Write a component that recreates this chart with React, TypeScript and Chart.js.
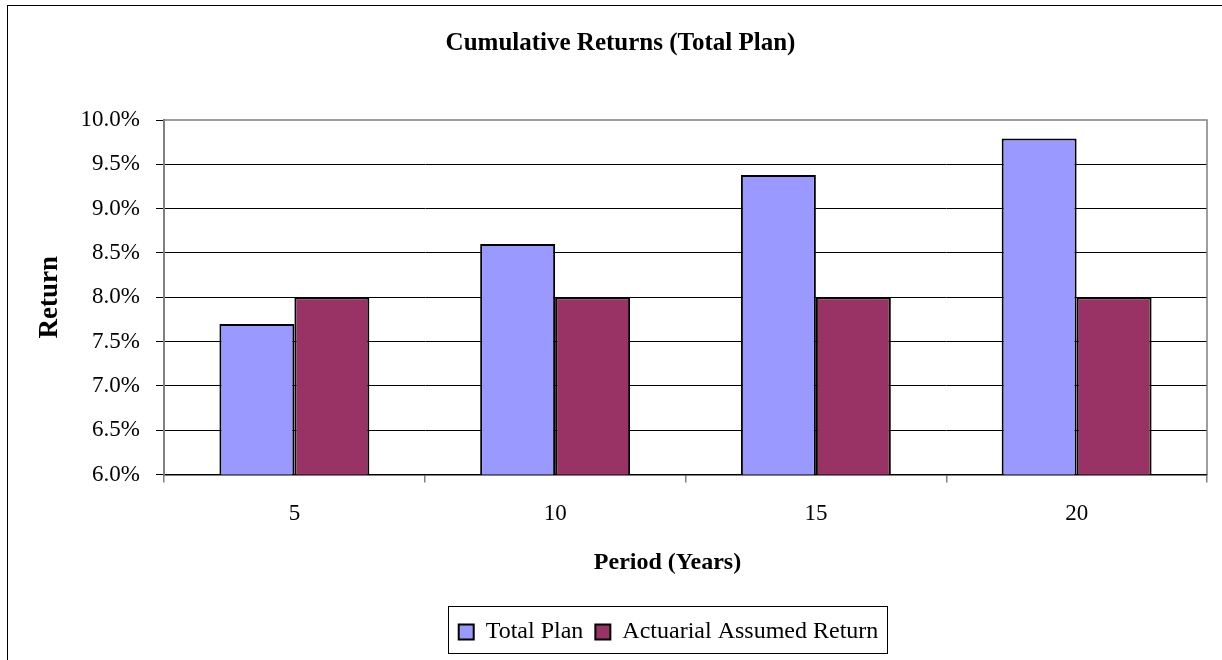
import React, { useEffect, useRef } from "react";
import { Chart, registerables } from "chart.js";

Chart.register(...registerables);

const categories = ["5", "10", "15", "20"];
const totalPlan = [7.7, 8.6, 9.38, 9.79];
const actuarialAssumed = [8.0, 8.0, 8.0, 8.0];
const seriesNames = ["Total Plan", "Actuarial Assumed Return"];
const seriesColors = ["#9999FF", "#993366"];
const yMin = 6;
const yMax = 10;
const yStep = 0.5;
const chartTitle = "Cumulative Returns (Total Plan)";
const xAxisTitle = "Period (Years)";
const yAxisTitle = "Return";

const FONT = "'Liberation Serif', 'Times New Roman', serif";
const LEGEND_PAD = 12;

export default function App() {
  const ref = useRef<HTMLCanvasElement>(null);

  useEffect(() => {
    if (!ref.current) return;
    const framePlugin = {
      id: "excelFrame",
      afterLayout(chart: any) {
        const lg = chart.legend;
        if (lg) {
          lg.left += 65;
          lg.right += 65;
        }
        const tb = chart.titleBlock;
        if (tb) {
          tb.left += 17;
          tb.right += 17;
        }
      },
      afterDraw(chart: any) {
        const { ctx, chartArea: a } = chart;
        ctx.save();
        ctx.strokeStyle = "#808080";
        ctx.lineWidth = 1.5;
        ctx.beginPath();
        ctx.moveTo(a.left, a.top);
        ctx.lineTo(a.right, a.top);
        ctx.lineTo(a.right, a.bottom);
        ctx.stroke();
        const lg = chart.legend;
        if (lg && lg.lineWidths && lg.lineWidths.length) {
          const lw = lg.lineWidths[0];
          const startX = (lg.left + LEGEND_PAD + lg.right - lw) / 2;
          const l = startX - 11;
          const r = startX + lw - LEGEND_PAD + 8;
          const cy = lg.top + lg.height / 2;
          ctx.strokeStyle = "#000";
          ctx.lineWidth = 1;
          ctx.strokeRect(Math.round(l) + 0.5, Math.round(cy - 25) + 0.5, Math.round(r - l), 47);
        }
        ctx.restore();
      },
    };

    const chart = new Chart(ref.current, {
      type: "bar",
      data: {
        labels: categories,
        datasets: [
          {
            label: seriesNames[0],
            data: totalPlan,
            backgroundColor: seriesColors[0],
            borderColor: "#000",
            borderWidth: 2,
            borderSkipped: false,
          },
          {
            label: seriesNames[1],
            data: actuarialAssumed,
            backgroundColor: seriesColors[1],
            borderColor: "#000",
            borderWidth: 2,
            borderSkipped: false,
          },
        ],
      },
      options: {
        responsive: false,
        animation: false,
        devicePixelRatio: 1,
        layout: { padding: { left: 0, right: 15, top: 0, bottom: 6 } },
        datasets: {
          bar: { categoryPercentage: 0.575, barPercentage: 1.0 },
        },
        plugins: {
          title: {
            display: true,
            text: chartTitle,
            color: "#000",
            font: { family: FONT, size: 25, weight: "bold" },
            padding: { top: 29, bottom: 61 },
          },
          legend: {
            display: true,
            position: "bottom",
            labels: {
              color: "#000",
              font: { family: FONT, size: 24 },
              boxWidth: 15,
              boxHeight: 15,
              padding: LEGEND_PAD,
            },
          },
          tooltip: { enabled: false },
        },
        scales: {
          x: {
            type: "category",
            offset: true,
            grid: {
              display: true,
              offset: true,
              drawOnChartArea: false,
              drawTicks: true,
              tickLength: 8,
              color: "#808080",
              lineWidth: 1.5,
            },
            border: { display: true, color: "#000", width: 1.5 },
            ticks: {
              color: "#000",
              font: { family: FONT, size: 23 },
              padding: 18,
              autoSkip: false,
              maxRotation: 0,
            },
            title: {
              display: true,
              text: xAxisTitle + "      ",
              color: "#000",
              font: { family: FONT, size: 24, weight: "bold" },
              padding: { top: 0, bottom: 31 },
            },
            afterFit(scale: any) {
              scale.height = 133.4;
            },
          },
          y: {
            min: yMin,
            max: yMax,
            grid: {
              display: true,
              drawTicks: true,
              tickLength: 8,
              color: (c: any) => (c.tick && c.tick.value === yMax ? "rgba(0,0,0,0)" : "#000"),
              tickColor: "#000",
              lineWidth: 1,
            },
            border: { display: true, color: "#808080", width: 2 },
            ticks: {
              stepSize: yStep,
              color: "#000",
              font: { family: FONT, size: 23 },
              padding: 16,
              autoSkip: false,
              callback: (v: any) => Number(v).toFixed(1) + "%",
            },
            title: {
              display: true,
              text: yAxisTitle,
              color: "#000",
              font: { family: FONT, size: 27, weight: "bold" },
              padding: { top: 34, bottom: 0 },
            },
            afterFit(scale: any) {
              scale.width = 164;
            },
          },
        },
      },
      plugins: [framePlugin],
    });
    return () => chart.destroy();
  }, []);

  return (
    <div style={{ position: "absolute", left: 0, top: 0, width: 1222, height: 660, overflow: "hidden", background: "#fff" }}>
      <div
        style={{
          position: "absolute",
          left: 7,
          top: 5,
          width: 1300,
          height: 700,
          borderLeft: "1.5px solid #000",
          borderTop: "1.5px solid #000",
        }}
      />
      <canvas ref={ref} width={1222} height={660} style={{ position: "absolute", left: 0, top: 0, width: 1222, height: 660 }} />
    </div>
  );
}
